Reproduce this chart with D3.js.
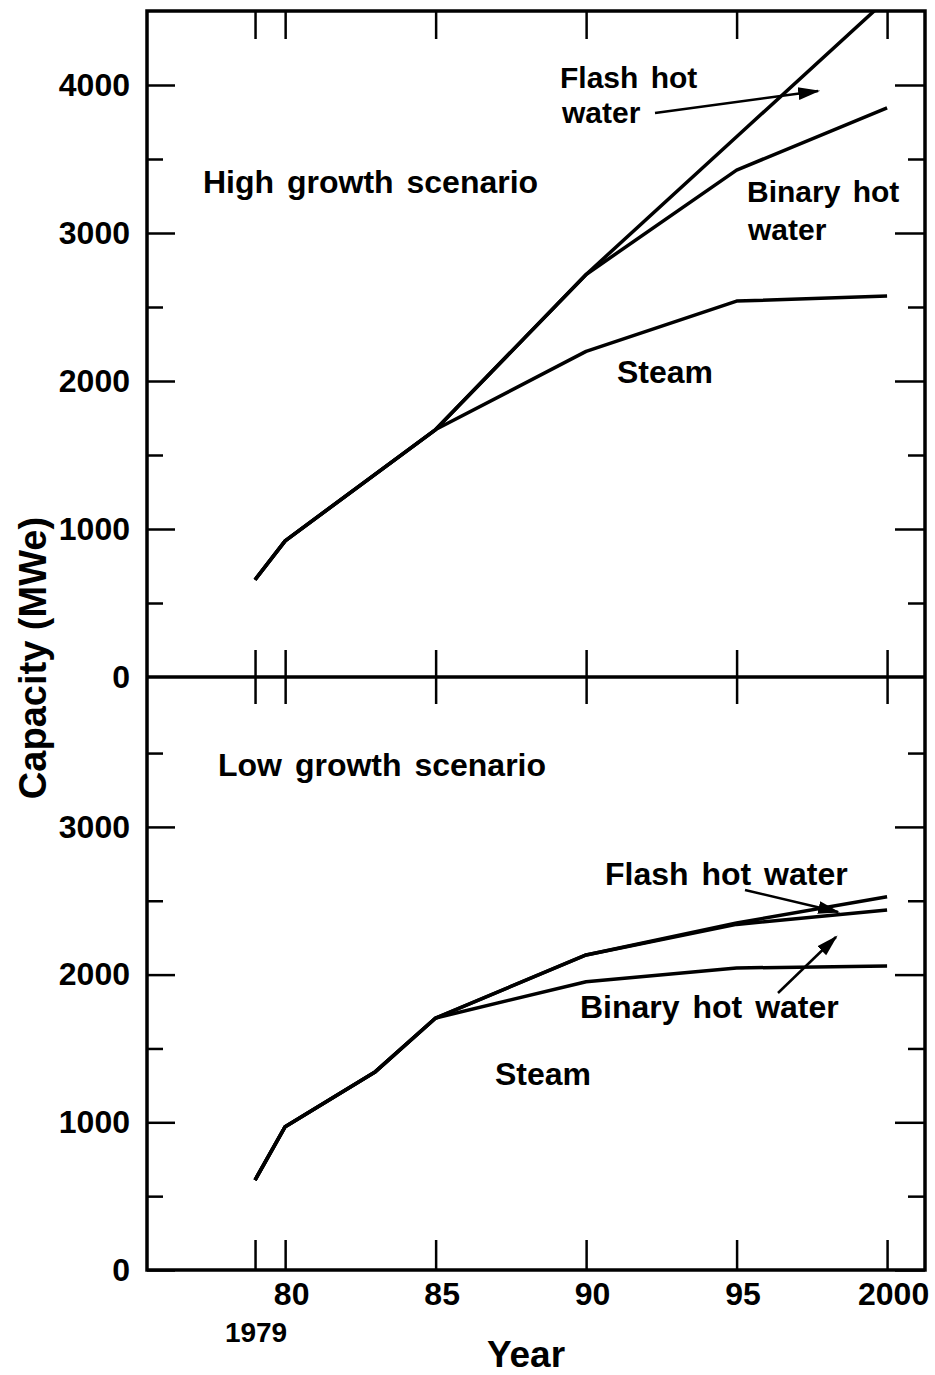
<!DOCTYPE html>
<html>
<head>
<meta charset="utf-8">
<script src="https://cdn.jsdelivr.net/npm/d3@7"></script>
<style>
  body { margin: 0; background: #fff; }
  svg text { font-family: "Liberation Sans", Arial, sans-serif; font-weight: bold; fill: #000; }
</style>
</head>
<body>
<div id="chart"></div>
<script>
// years
const years = [1979, 1980, 1985, 1990, 1995, 2000];

// high growth scenario (MWe)
const highSteam = [657, 920, 1672, 2200, 2540, 2575];
const highBinary = [657, 920, 1672, 2720, 3425, 3846];
const highFlash = [657, 920, 1672, 2720, 3650, 4580];

// low growth scenario (MWe)
const lowYears = [1979, 1980, 1983, 1985, 1990, 1995, 2000];
const lowSteam = [609, 970, 1343, 1706, 1952, 2045, 2058];
const lowBinary = [609, 970, 1343, 1706, 2133, 2340, 2437];
const lowFlash = [609, 970, 1343, 1706, 2133, 2350, 2527];

const xTicks = [1979, 1980, 1985, 1990, 1995, 2000];
const xTickLabels = ['', '80', '85', '90', '95', '2000'];
const highMajor = [1000, 2000, 3000, 4000];
const highMinor = [500, 1500, 2500, 3500];
const lowMajor = [0, 1000, 2000, 3000];
const lowMinor = [500, 1500, 2500, 3500];

const W = 935, H = 1375;
const mLeft = 147, mRight = 925, mTop = 11, mMid = 677, mBottom = 1270;

const svg = d3.select('#chart').append('svg')
  .attr('width', W)
  .attr('height', H);

const x = d3.scaleLinear().domain([1975.41, 2001.26]).range([mLeft, mRight]);
const yHigh = d3.scaleLinear().domain([0, 4500]).range([mMid, mTop]);
const yLow = d3.scaleLinear().domain([0, 4015]).range([mBottom, mMid]);

const defs = svg.append('defs');
defs.append('clipPath').attr('id', 'clipHigh')
  .append('rect')
  .attr('x', mLeft).attr('y', mTop)
  .attr('width', mRight - mLeft).attr('height', mMid - mTop);

defs.append('marker')
  .attr('id', 'arrow')
  .attr('viewBox', '0 0 10 10')
  .attr('refX', 9).attr('refY', 5)
  .attr('markerWidth', 22).attr('markerHeight', 22)
  .attr('markerUnits', 'userSpaceOnUse')
  .attr('orient', 'auto')
  .append('path').attr('d', 'M0,2.1 L10,5 L0,7.9 Z').attr('fill', '#000');

function styleAxis(g) {
  g.select('.domain').remove();
  g.selectAll('.tick line').attr('stroke', '#000').attr('stroke-width', 2.5);
  g.selectAll('.tick text').style('font-size', '32px');
}

// y ticks on left and right frame, pointing inward
function yTicks(scale, major, minor) {
  svg.append('g')
    .attr('transform', `translate(${mLeft},0)`)
    .call(d3.axisLeft(scale).tickValues(major).tickSize(-28).tickPadding(17)
      .tickFormat(d3.format('d')))
    .call(styleAxis);
  svg.append('g')
    .attr('transform', `translate(${mLeft},0)`)
    .call(d3.axisLeft(scale).tickValues(minor).tickSize(-16).tickFormat(''))
    .call(styleAxis);
  svg.append('g')
    .attr('transform', `translate(${mRight},0)`)
    .call(d3.axisRight(scale).tickValues(major).tickSize(-30).tickFormat(''))
    .call(styleAxis);
  svg.append('g')
    .attr('transform', `translate(${mRight},0)`)
    .call(d3.axisRight(scale).tickValues(minor).tickSize(-17).tickFormat(''))
    .call(styleAxis);
}
yTicks(yHigh, highMajor, highMinor);
yTicks(yLow, lowMajor, lowMinor);

// zero label for upper panel sits on the middle line
svg.append('text')
  .attr('x', mLeft - 17).attr('y', mMid + 11)
  .attr('text-anchor', 'end')
  .style('font-size', '32px')
  .text('0');

// x ticks at top, middle and bottom
svg.append('g')
  .attr('transform', `translate(0,${mTop})`)
  .call(d3.axisBottom(x).tickValues(xTicks).tickSize(28).tickFormat(''))
  .call(styleAxis);
svg.append('g')
  .attr('transform', `translate(0,${mMid})`)
  .call(d3.axisBottom(x).tickValues(xTicks).tickSize(27).tickFormat(''))
  .call(styleAxis);
svg.append('g')
  .attr('transform', `translate(0,${mMid})`)
  .call(d3.axisTop(x).tickValues(xTicks).tickSize(27).tickFormat(''))
  .call(styleAxis);
svg.append('g')
  .attr('transform', `translate(0,${mBottom})`)
  .call(d3.axisTop(x).tickValues(xTicks).tickSize(30).tickFormat(''))
  .call(styleAxis);
svg.append('g')
  .attr('transform', `translate(6,${mBottom})`)
  .call(d3.axisBottom(x).tickValues(xTicks).tickSize(0).tickPadding(12)
    .tickFormat((d, i) => xTickLabels[i]))
  .call(styleAxis);

svg.append('text')
  .attr('x', x(1979) + 1).attr('y', mBottom + 72)
  .attr('text-anchor', 'middle')
  .style('font-size', '28px')
  .text('1979');

// frame and middle line
svg.append('rect')
  .attr('x', mLeft).attr('y', mTop)
  .attr('width', mRight - mLeft).attr('height', mBottom - mTop)
  .attr('fill', 'none').attr('stroke', '#000').attr('stroke-width', 3.5);
svg.append('line')
  .attr('x1', mLeft).attr('x2', mRight)
  .attr('y1', mMid).attr('y2', mMid)
  .attr('stroke', '#000').attr('stroke-width', 3.5);

// curves
function drawLine(xs, ys, yScale, clip) {
  const line = d3.line()
    .x((d, i) => x(xs[i]))
    .y(d => yScale(d));
  const p = svg.append('path')
    .datum(ys)
    .attr('d', line)
    .attr('fill', 'none')
    .attr('stroke', '#000')
    .attr('stroke-width', 3.5)
    .attr('stroke-linejoin', 'round');
  if (clip) p.attr('clip-path', `url(#${clip})`);
}
drawLine(years, highSteam, yHigh);
drawLine(years, highBinary, yHigh);
drawLine(years, highFlash, yHigh, 'clipHigh');
drawLine(lowYears, lowSteam, yLow);
drawLine(lowYears, lowBinary, yLow);
drawLine(lowYears, lowFlash, yLow);

// annotations
const labels = [
  { text: 'High growth scenario', px: 203, py: 193, size: 32 },
  { text: 'Flash hot', px: 560, py: 88, size: 30 },
  { text: 'water', px: 562, py: 123, size: 30 },
  { text: 'Binary hot', px: 747, py: 202, size: 30 },
  { text: 'water', px: 748, py: 240, size: 30 },
  { text: 'Steam', px: 617, py: 383, size: 32 },
  { text: 'Low growth scenario', px: 218, py: 776, size: 32 },
  { text: 'Flash hot water', px: 605, py: 885, size: 32 },
  { text: 'Binary hot water', px: 580, py: 1018, size: 32 },
  { text: 'Steam', px: 495, py: 1085, size: 32 }
];
svg.selectAll('text.note')
  .data(labels)
  .enter()
  .append('text')
  .attr('class', 'note')
  .attr('x', d => d.px)
  .attr('y', d => d.py)
  .style('font-size', d => `${d.size}px`)
  .style('word-spacing', '4px')
  .text(d => d.text);

const arrows = [
  [655, 113, 818, 91],
  [745, 890, 838, 912],
  [778, 993, 836, 937]
];
svg.selectAll('line.arrow')
  .data(arrows)
  .enter()
  .append('line')
  .attr('class', 'arrow')
  .attr('x1', d => d[0]).attr('y1', d => d[1])
  .attr('x2', d => d[2]).attr('y2', d => d[3])
  .attr('stroke', '#000')
  .attr('stroke-width', 2.5)
  .attr('marker-end', 'url(#arrow)');

// axis titles
svg.append('text')
  .attr('x', (mLeft + mRight) / 2 - 10).attr('y', 1367)
  .attr('text-anchor', 'middle')
  .style('font-size', '37px')
  .text('Year');

svg.append('text')
  .attr('transform', `translate(46,658) rotate(-90)`)
  .attr('text-anchor', 'middle')
  .style('font-size', '38px')
  .text('Capacity (MWe)');
</script>
</body>
</html>
